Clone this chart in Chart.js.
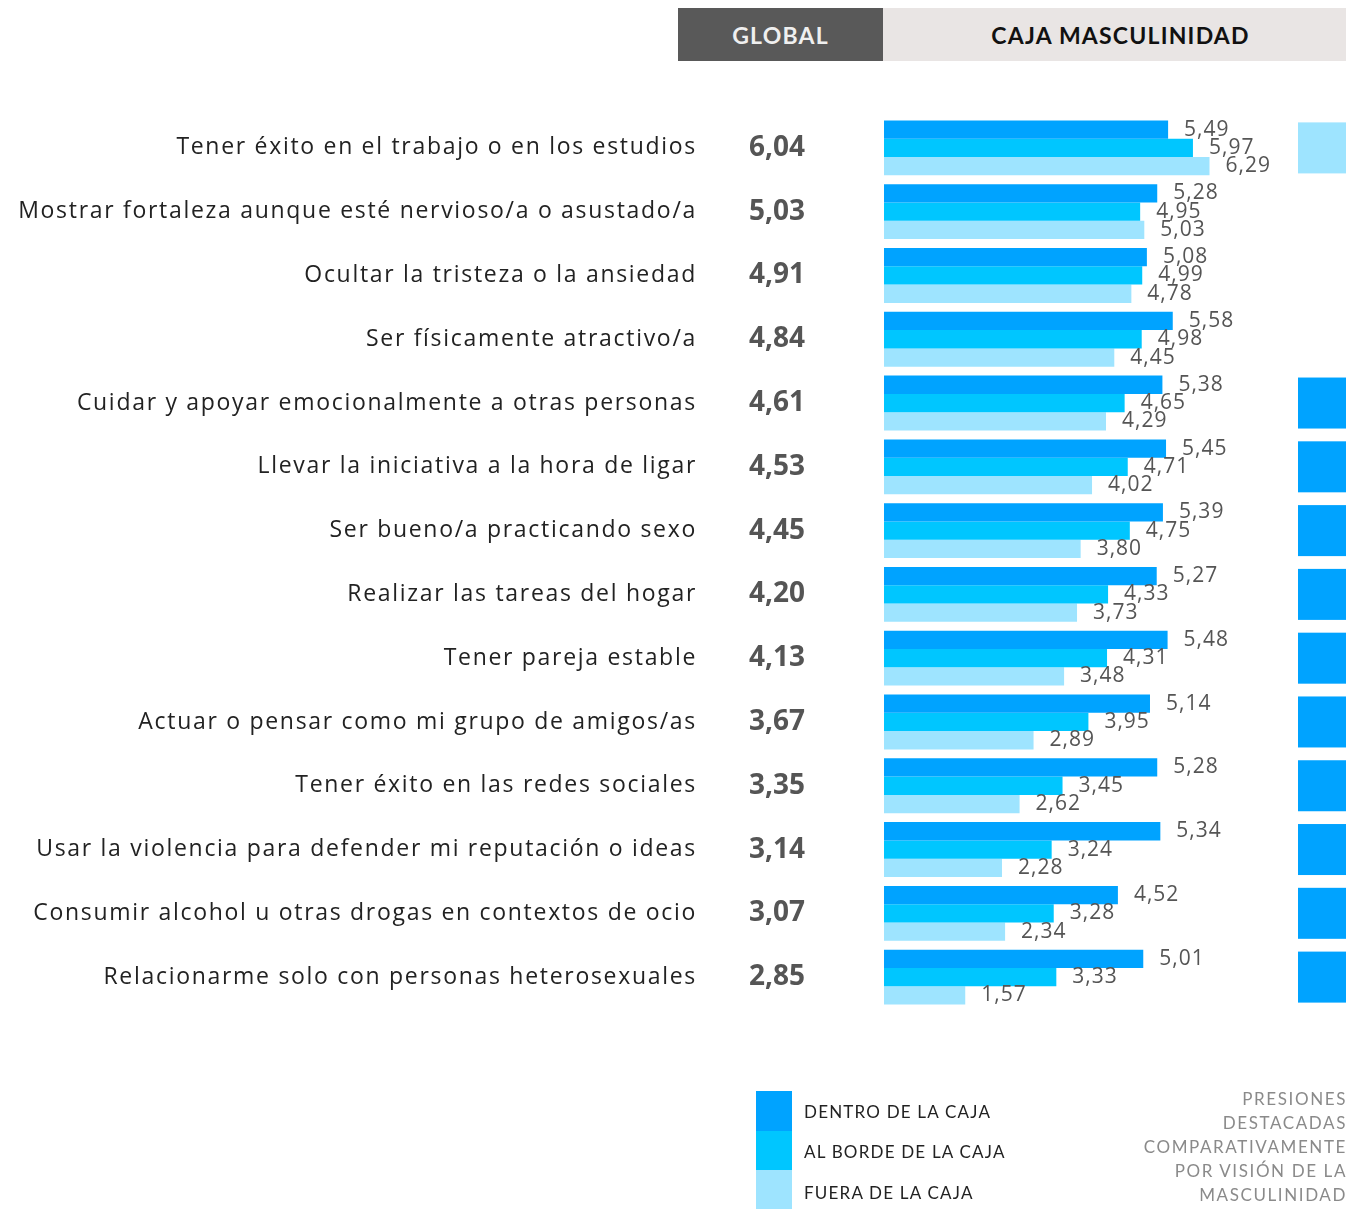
<!DOCTYPE html>
<html>
<head>
<meta charset="utf-8">
<script src="https://cdn.jsdelivr.net/npm/chart.js@4.4.1/dist/chart.umd.min.js"></script>
<style>
  html, body { margin: 0; padding: 0; background: #fff; }
  #wrap { position: relative; width: 1346px; height: 1209px; overflow: hidden; font-family: Lato, "Noto Sans", sans-serif; }
  #chart { position: absolute; left: 0; top: 0; }
  .hdr { position: absolute; top: 8px; height: 53px; line-height: 55px; text-align: center; font-weight: 700; font-size: 23px; letter-spacing: 1.2px; }
  #hdr-global { left: 678px; width: 205px; background: #595959; color: #efefef; }
  #hdr-caja { left: 883px; width: 463px; background: #e9e5e4; color: #111; padding-left: 12px; box-sizing: border-box; }
  .leg-box { position: absolute; left: 756px; width: 36px; }
  .leg-txt { position: absolute; left: 804px; font-size: 17px; color: #222; line-height: 20px; letter-spacing: 1.2px; }
  #note { position: absolute; right: -1px; top: 1087px; text-align: right; font-size: 17px; line-height: 24px; color: #8a8a8a; letter-spacing: 1.6px; }
</style>
</head>
<body>
<div id="wrap">
  <canvas id="chart" width="1346" height="1209"></canvas>
  <div class="hdr" id="hdr-global">GLOBAL</div>
  <div class="hdr" id="hdr-caja">CAJA MASCULINIDAD</div>
  <div class="leg-box" style="top:1091px;height:40px;background:#00a3ff"></div>
  <div class="leg-box" style="top:1131px;height:39px;background:#00c6ff"></div>
  <div class="leg-box" style="top:1170px;height:39px;background:#9ee4ff"></div>
  <div class="leg-txt" style="top:1102px">DENTRO DE LA CAJA</div>
  <div class="leg-txt" style="top:1142px">AL BORDE DE LA CAJA</div>
  <div class="leg-txt" style="top:1183px">FUERA DE LA CAJA</div>
  <div id="note">PRESIONES<br>DESTACADAS<br>COMPARATIVAMENTE<br>POR VISIÓN DE LA<br>MASCULINIDAD</div>
</div>
<script>
const categories = [
  'Tener éxito en el trabajo o en los estudios',
  'Mostrar fortaleza aunque esté nervioso/a o asustado/a',
  'Ocultar la tristeza o la ansiedad',
  'Ser físicamente atractivo/a',
  'Cuidar y apoyar emocionalmente a otras personas',
  'Llevar la iniciativa a la hora de ligar',
  'Ser bueno/a practicando sexo',
  'Realizar las tareas del hogar',
  'Tener pareja estable',
  'Actuar o pensar como mi grupo de amigos/as',
  'Tener éxito en las redes sociales',
  'Usar la violencia para defender mi reputación o ideas',
  'Consumir alcohol u otras drogas en contextos de ocio',
  'Relacionarme solo con personas heterosexuales'
];
const globalValues = [6.04, 5.03, 4.91, 4.84, 4.61, 4.53, 4.45, 4.20, 4.13, 3.67, 3.35, 3.14, 3.07, 2.85];
const dentro = [5.49, 5.28, 5.08, 5.58, 5.38, 5.45, 5.39, 5.27, 5.48, 5.14, 5.28, 5.34, 4.52, 5.01];
const borde  = [5.97, 4.95, 4.99, 4.98, 4.65, 4.71, 4.75, 4.33, 4.31, 3.95, 3.45, 3.24, 3.28, 3.33];
const fuera  = [6.29, 5.03, 4.78, 4.45, 4.29, 4.02, 3.80, 3.73, 3.48, 2.89, 2.62, 2.28, 2.34, 1.57];
// which group stands out per row (square on the right)
const highlight = ['fuera', null, null, null, 'dentro', 'dentro', 'dentro', 'dentro', 'dentro', 'dentro', 'dentro', 'dentro', 'dentro', 'dentro'];

const colors = { dentro: '#00a3ff', borde: '#00c6ff', fuera: '#9ee4ff' };

function fmt(v) {
  return v.toFixed(2).replace('.', ',');
}

const labelsPlugin = {
  id: 'labels',
  afterDatasetsDraw(chart) {
    const ctx = chart.ctx;
    const yScale = chart.scales.y;
    ctx.save();

    // category labels + global column
    categories.forEach((cat, i) => {
      const y = yScale.getPixelForValue(i);
      ctx.textBaseline = 'middle';
      ctx.textAlign = 'right';
      ctx.fillStyle = '#222';
      ctx.font = '23px "Open Sans", Lato, sans-serif';
      ctx.letterSpacing = '1.7px';
      ctx.fillText(cat, 697, y);
      ctx.textAlign = 'center';
      ctx.fillStyle = '#555';
      ctx.font = 'bold 28px "Open Sans", Lato, sans-serif';
      ctx.letterSpacing = '0px';
      ctx.fillText(fmt(globalValues[i]), 777, y);
    });

    // value labels at the bar ends
    ctx.font = '21px "Open Sans", Lato, sans-serif';
    ctx.letterSpacing = '1px';
    ctx.fillStyle = '#555';
    ctx.textAlign = 'left';
    ctx.textBaseline = 'middle';
    chart.data.datasets.forEach((ds, di) => {
      chart.getDatasetMeta(di).data.forEach((bar, i) => {
        ctx.fillText(fmt(ds.data[i]), bar.x + 16, bar.y);
      });
    });
    ctx.letterSpacing = '0px';

    // highlight squares on the right
    highlight.forEach((h, i) => {
      if (!h) return;
      const y = yScale.getPixelForValue(i);
      ctx.fillStyle = colors[h];
      ctx.fillRect(1298, y - 25.5, 60, 51);
    });
    ctx.restore();
  }
};

new Chart(document.getElementById('chart'), {
  type: 'bar',
  data: {
    labels: categories,
    datasets: [
      { label: 'Dentro de la caja', data: dentro, backgroundColor: colors.dentro },
      { label: 'Al borde de la caja', data: borde, backgroundColor: colors.borde },
      { label: 'Fuera de la caja', data: fuera, backgroundColor: colors.fuera }
    ]
  },
  options: {
    indexAxis: 'y',
    responsive: false,
    animation: false,
    layout: { padding: { left: 884, right: 48, top: 116, bottom: 200 } },
    categoryPercentage: 0.86,
    barPercentage: 1.0,
    plugins: { legend: { display: false }, tooltip: { enabled: false } },
    scales: {
      x: { display: false, min: 0, max: 8 },
      y: { display: false, grid: { display: false } }
    }
  },
  plugins: [labelsPlugin]
});
</script>
</body>
</html>
